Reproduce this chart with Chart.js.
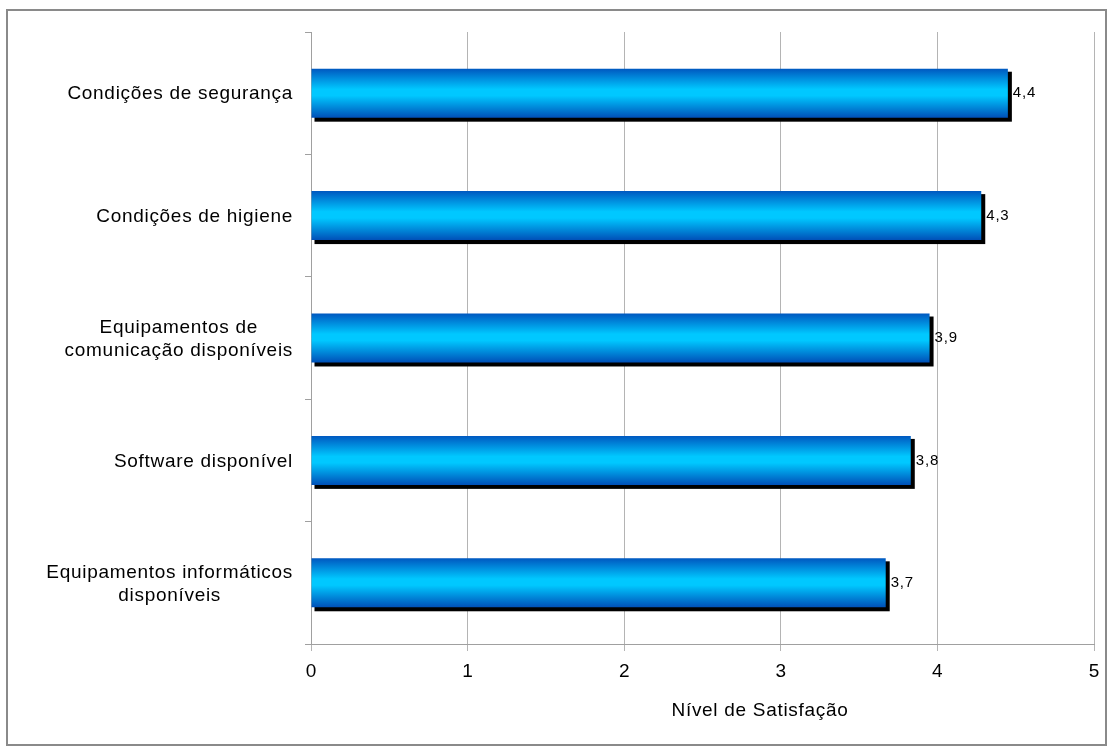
<!DOCTYPE html>
<html>
<head>
<meta charset="utf-8">
<script src="https://cdn.jsdelivr.net/npm/chart.js@4/dist/chart.umd.min.js"></script>
<style>
html,body{margin:0;padding:0;background:#fff;}
#wrap{width:1113px;height:752px;position:relative;}
</style>
</head>
<body>
<div id="wrap"><canvas id="c" width="1113" height="752"></canvas></div>
<script>
const categories = [
  ["Condições de segurança"],
  ["Condições de higiene"],
  ["Equipamentos de", "comunicação disponíveis"],
  ["Software disponível"],
  ["Equipamentos informáticos", "disponíveis"]
];
const satisfaction = [4.45, 4.28, 3.95, 3.83, 3.67];
const valueLabels = ["4,4", "4,3", "3,9", "3,8", "3,7"];
const xTicks = [0, 1, 2, 3, 4, 5];
const axisTitle = "Nível de Satisfação";

const FONT = "'Liberation Sans', Arial, sans-serif";
const BAR_FRACTION = 0.4;

function barGradient(context) {
  const chart = context.chart;
  const ys = chart.scales && chart.scales.y;
  if (!ys || !chart.chartArea) return '#00C8FF';
  const yc = ys.getPixelForValue(context.dataIndex);
  const step = Math.abs(ys.getPixelForValue(1) - ys.getPixelForValue(0));
  const half = step * BAR_FRACTION / 2;
  const g = chart.ctx.createLinearGradient(0, yc - half, 0, yc + half);
  g.addColorStop(0, '#0058C0');
  g.addColorStop(0.42, '#00C8FF');
  g.addColorStop(0.55, '#00C8FF');
  g.addColorStop(1, '#0050B8');
  return g;
}

const decorPlugin = {
  id: 'decor',
  beforeDatasetsDraw(chart) {
    const ctx = chart.ctx;
    const meta = chart.getDatasetMeta(0);
    ctx.save();
    ctx.fillStyle = '#000';
    meta.data.forEach((bar) => {
      const top = bar.y - bar.height / 2;
      ctx.fillRect(bar.base + 3, top + 3, bar.x - bar.base + 1, bar.height + 1);
    });
    ctx.restore();
  },
  afterDatasetsDraw(chart) {
    const ctx = chart.ctx;
    const meta = chart.getDatasetMeta(0);
    ctx.save();
    ctx.font = "15px " + FONT;
    ctx.letterSpacing = '0.8px';
    ctx.fillStyle = '#000';
    ctx.textBaseline = 'middle';
    ctx.textAlign = 'left';
    meta.data.forEach((bar, i) => {
      ctx.fillText(valueLabels[i], bar.x + 5, bar.y);
    });
    ctx.restore();
  },
  afterDraw(chart) {
    const ctx = chart.ctx;
    const ys = chart.scales.y;
    ctx.save();
    ctx.font = "19px " + FONT;
    ctx.letterSpacing = '0.7px';
    ctx.fillStyle = '#000';
    ctx.textBaseline = 'middle';
    ctx.textAlign = 'center';
    const right = chart.chartArea.left - 18;
    const lh = 23;
    categories.forEach((lines, i) => {
      const yc = ys.getPixelForValue(i) + 1;
      let w = 0;
      lines.forEach(l => { w = Math.max(w, ctx.measureText(l).width); });
      const cx = right - w / 2;
      const y0 = yc - (lines.length - 1) * lh / 2;
      lines.forEach((l, k) => ctx.fillText(l, cx, y0 + k * lh));
    });
    ctx.fillText(axisTitle, 760, 711);
    ctx.letterSpacing = '0px';
    ctx.strokeStyle = '#8a8a8a';
    ctx.lineWidth = 2;
    ctx.strokeRect(7, 10, 1099, 735);
    ctx.restore();
  }
};

new Chart(document.getElementById('c'), {
  type: 'bar',
  data: {
    labels: categories,
    datasets: [{
      data: satisfaction,
      backgroundColor: barGradient,
      borderWidth: 0,
      barPercentage: BAR_FRACTION,
      categoryPercentage: 1.0
    }]
  },
  options: {
    indexAxis: 'y',
    responsive: false,
    animation: false,
    devicePixelRatio: 1,
    layout: { padding: { left: 8, right: 19, top: 32, bottom: 0 } },
    plugins: {
      legend: { display: false },
      tooltip: { enabled: false },
      title: { display: false }
    },
    scales: {
      x: {
        min: 0, max: 5,
        afterBuildTicks(scale) { scale.ticks = xTicks.map(v => ({ value: v })); },
        afterFit(scale) { scale.height = 752 - 644; },
        grid: { color: '#b4b4b4', lineWidth: 1, tickLength: 7, drawTicks: true },
        border: { color: '#a0a0a0', width: 1 },
        ticks: { color: '#000', font: { family: FONT, size: 19 }, padding: 9 }
      },
      y: {
        afterFit(scale) { scale.width = 311 - 8; },
        grid: { offset: true, drawOnChartArea: false, drawTicks: true, tickLength: 6, color: '#a0a0a0' },
        border: { color: '#a0a0a0', width: 1 },
        ticks: { display: false }
      }
    }
  },
  plugins: [decorPlugin]
});
</script>
</body>
</html>
